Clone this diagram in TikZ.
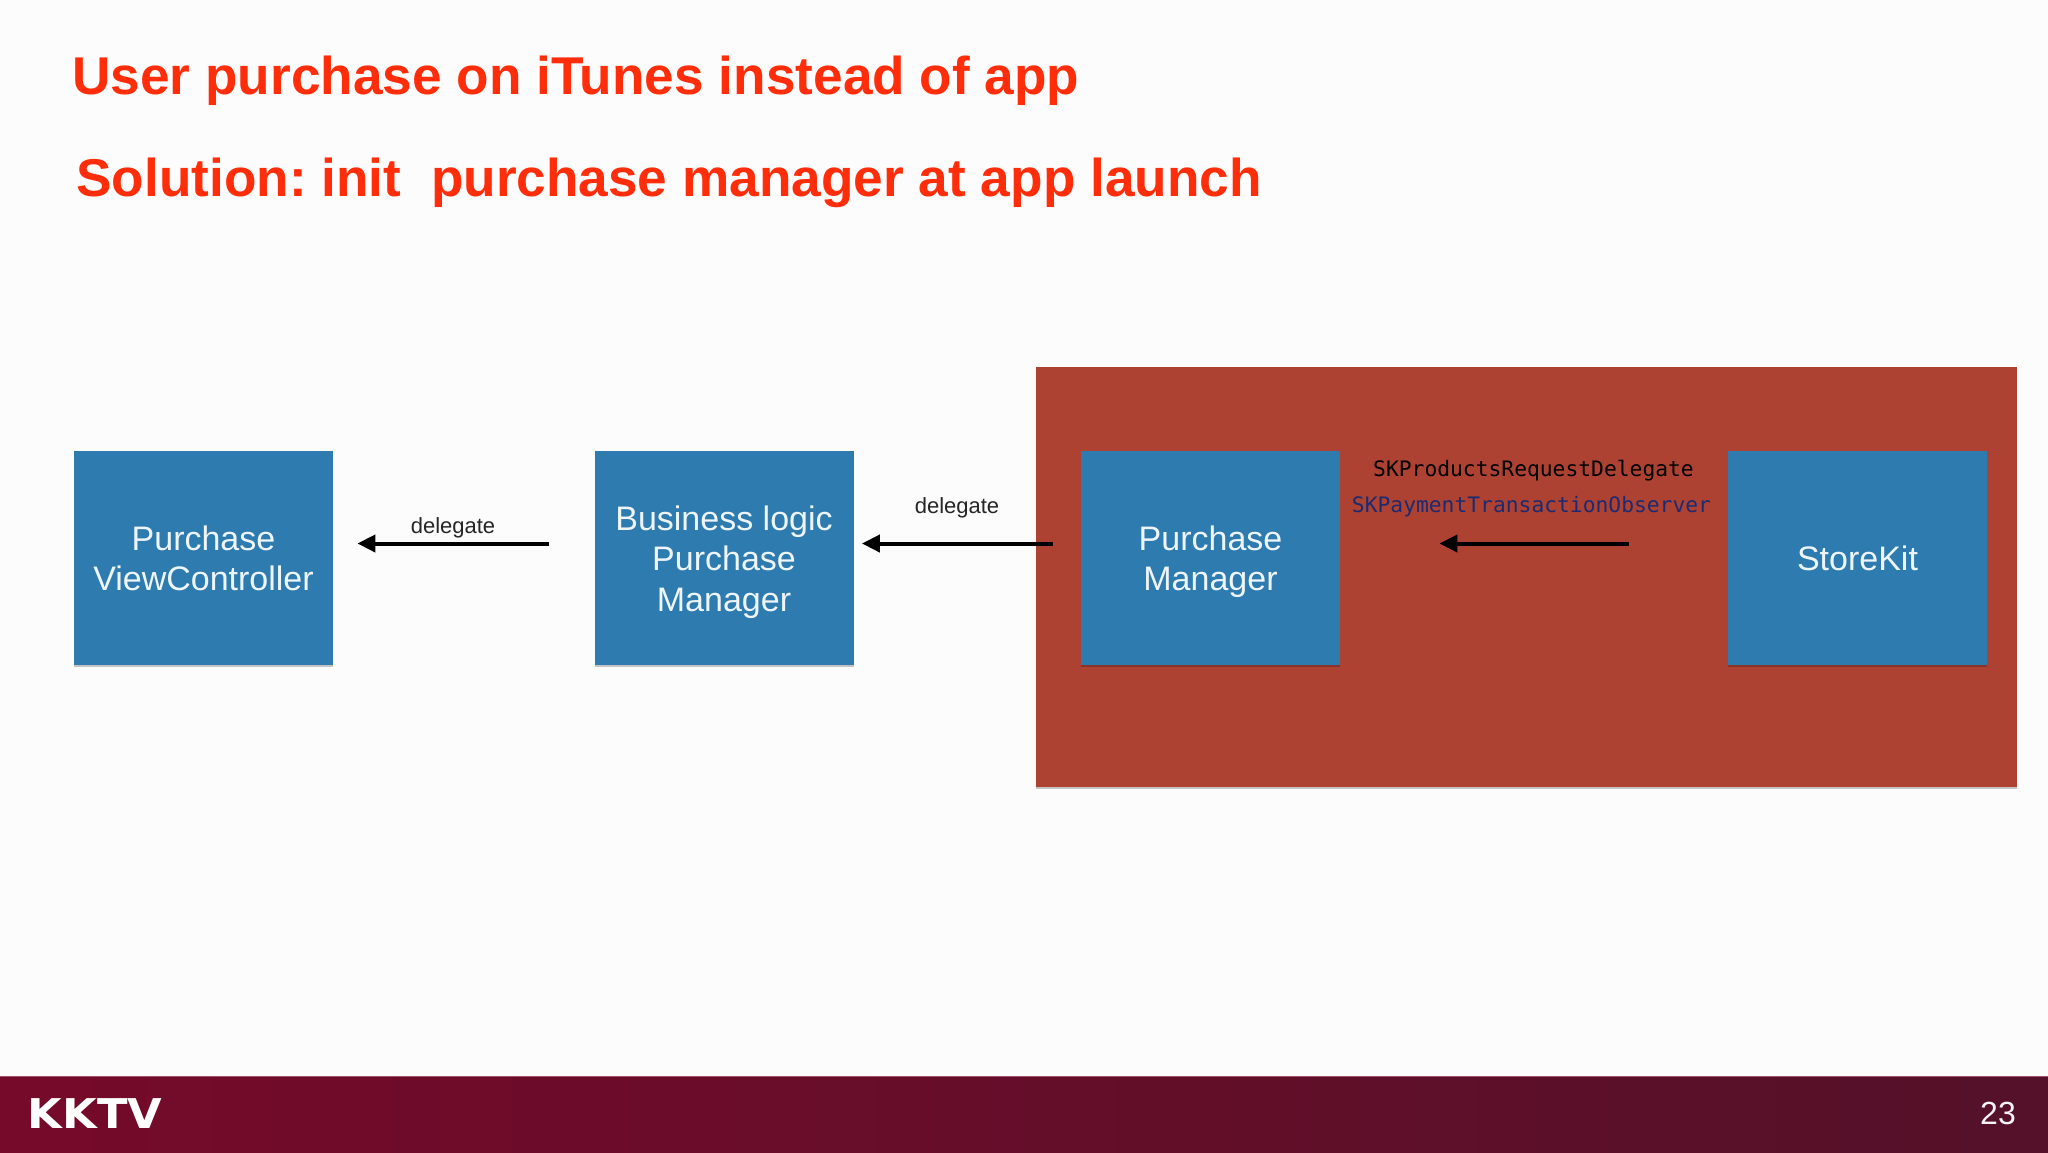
\documentclass[tikz,border=0pt]{standalone}
\usepackage{fontspec}
\setmainfont{Liberation Sans}
\newfontfamily\monofam{DejaVu Sans Mono}
\newfontfamily\logofam{DejaVu Sans}
\usetikzlibrary{arrows.meta,shadows,calc}
\definecolor{bgc}{HTML}{FDFCFD}
\definecolor{titlec}{HTML}{FF2D0A}
\definecolor{boxc}{HTML}{2E7BB0}
\definecolor{redc}{HTML}{AE4232}
\definecolor{footl}{HTML}{760A2A}
\definecolor{footr}{HTML}{541129}
\definecolor{navyc}{HTML}{1C2A70}
\newcommand{\firstline}{\rule[-6.06pt]{0pt}{24.8pt}}
\tikzset{
  soft/.style={drop shadow={shadow xshift=0pt,shadow yshift=-0.8pt,opacity=0.22,fill=black}},
  bluebox/.style={rectangle,fill=boxc,inner sep=0pt,minimum width=129.5pt,minimum height=107pt,text=white!92!boxc,align=center,soft,
    font=\fontsize{17}{20.2}\selectfont},
  titletext/.style={anchor=base west,inner sep=0pt,text=titlec,font=\fontsize{26.6}{32}\selectfont\bfseries\frenchspacing},
  edgelabel/.style={inner sep=0pt,anchor=base,text=black!85,font=\fontsize{11}{13}\selectfont},
  codelabel/.style={inner sep=0pt,anchor=base,font=\fontsize{10.65}{13}\selectfont\monofam},
  flow/.style={-{Triangle[length=9pt,width=8.5pt]},line width=2pt,black},
}
\begin{document}
\begin{tikzpicture}[x=0.5pt,y=-0.5pt]
\useasboundingbox (0,0) rectangle (2048,1152);
\fill[bgc] (0,0) rectangle (2048,1152);
% footer
\shade[left color=footl,right color=footr] (0,1076) rectangle (2048,1152);
\fill[footl!70!white] (0,1075.5) rectangle (2048,1076.5);
\node[anchor=center,inner sep=0pt,text=white,font=\logofam\bfseries\fontsize{20.5}{20}\selectfont,xscale=1.09] (logo) at (95,1113.5) {KKTV};
\node[anchor=center,inner sep=0pt,text=white!95!footr,font=\fontsize{16}{18}\selectfont] (pagenum) at (1998,1113) {23};
% titles
\node[titletext] (title1) at (72,94) {User purchase on iTunes instead of app};
\node[titletext] (title2) at (76,196) {Solution: init\ \ purchase manager at app launch};
% red panel
\node[rectangle,fill=redc,inner sep=0pt,minimum width=490.5pt,minimum height=210pt,anchor=north west,soft] (panel) at (1036,367) {};
% boxes
\node[bluebox] (pvc) at (203.5,558) {\firstline Purchase\\\strut ViewController};
\node[bluebox] (blpm) at (724,558) {\firstline Business logic\\\strut Purchase\\\strut Manager};
\node[bluebox] (pm) at (1210.5,558) {\firstline Purchase\\\strut Manager};
\node[bluebox] (sk) at (1857.5,558) {\firstline StoreKit};
% connectors
\draw[flow,shorten >=12pt,shorten <=22.5pt] ($(blpm.west)+(0,-14.5)$) -- ($(pvc.east)+(0,-14.5)$);
\draw[flow,shorten >=4pt,shorten <=14pt] ($(pm.west)+(0,-14.5)$) -- ($(blpm.east)+(0,-14.5)$);
\draw[flow,shorten >=49.5pt,shorten <=49.5pt] ($(sk.west)+(0,-14.5)$) -- ($(pm.east)+(0,-14.5)$);
% labels
\node[edgelabel] (d1) at (453,533) {delegate};
\node[edgelabel] (d2) at (957,513) {delegate};
\node[codelabel,text=black] (c1) at (1533.5,476) {SKProductsRequestDelegate};
\node[codelabel,text=navyc] (c2) at (1531.5,512) {SKPaymentTransactionObserver};
\end{tikzpicture}
\end{document}
